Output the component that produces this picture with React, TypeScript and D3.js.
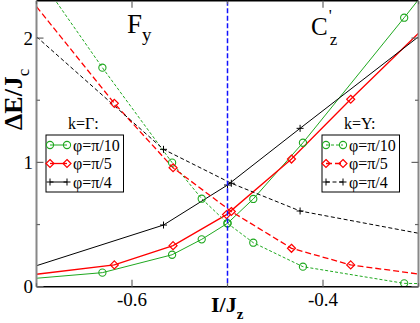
import React from "react";
import * as d3 from "d3";

// k=Gamma (solid) and k=Y (dashed) branches, [I/Jz, dE/Jc]
const gammaPi10 = [[-0.7, 0.068], [-0.631, 0.113], [-0.558, 0.257], [-0.527, 0.381], [-0.5, 0.51], [-0.473, 0.706], [-0.421, 1.158], [-0.315, 2.164], [-0.3, 2.31]];
const yPi10 = [[-0.7, 2.52], [-0.631, 1.762], [-0.558, 0.998], [-0.527, 0.708], [-0.5, 0.51], [-0.473, 0.354], [-0.421, 0.161], [-0.315, 0.027], [-0.3, 0.025]];
const gammaPi5 = [[-0.7, 0.1], [-0.6185, 0.175], [-0.557, 0.33], [-0.501, 0.58], [-0.433, 1.027], [-0.371, 1.508], [-0.3, 2.039]];
const yPi5 = [[-0.7, 2.253], [-0.6185, 1.475], [-0.557, 0.957], [-0.496, 0.605], [-0.433, 0.309], [-0.371, 0.175], [-0.3, 0.102]];
const gammaPi4 = [[-0.7, 0.169], [-0.567, 0.496], [-0.5, 0.818], [-0.424, 1.274], [-0.3, 2.011]];
const yPi4 = [[-0.7, 2.011], [-0.567, 1.105], [-0.496, 0.832], [-0.424, 0.609], [-0.3, 0.43]];

const phiLabels = ["\u03c6=\u03c0/10", "\u03c6=\u03c0/5", "\u03c6=\u03c0/4"];
const xTicks = [-0.6, -0.4];
const xMinor = [-0.7, -0.5, -0.3];
const yTicks = [0, 1, 2];
const yMinor = [0.5, 1.5];
const critical = -0.5;

const GREEN = "#1fa81f";
const RED = "#ff0000";
const BLACK = "#000000";

const W = 420;
const H = 323;
const L = 36.5, R = 418.5, T = 0.8, B = 286.7;

const x = d3.scaleLinear().domain([-0.7, -0.3]).range([L, R]);
const y = d3.scaleLinear().domain([0, 2.3]).range([B, T]);
const line = d3.line<number[]>().x((d) => x(d[0])).y((d) => y(d[1]));

const series = [
  { data: gammaPi10, color: GREEN, dash: null, mark: "circle", w: 1 },
  { data: gammaPi5, color: RED, dash: null, mark: "diamond", w: 1.3 },
  { data: gammaPi4, color: BLACK, dash: null, mark: "plus", w: 1 },
  { data: yPi10, color: GREEN, dash: "3,2", mark: "circle", w: 1 },
  { data: yPi5, color: RED, dash: "6,3", mark: "diamond", w: 1.3 },
  { data: yPi4, color: BLACK, dash: "4,2.5", mark: "plus", w: 1 },
];

function Marker({ kind, cx, cy, color }: { kind: string; cx: number; cy: number; color: string }) {
  if (kind === "circle") return <circle cx={cx} cy={cy} r={3.6} fill="none" stroke={color} strokeWidth={1.1} />;
  if (kind === "diamond")
    return (
      <path d={`M${cx},${cy - 4}L${cx + 4},${cy}L${cx},${cy + 4}L${cx - 4},${cy}Z`} fill="none" stroke={color} strokeWidth={1.2} />
    );
  return <path d={`M${cx - 3.5},${cy}H${cx + 3.5}M${cx},${cy - 3.5}V${cy + 3.5}`} stroke={color} strokeWidth={1} />;
}

function Legend({ x0, title, items }: { x0: number; title: string; items: typeof series }) {
  const rows = [145, 163.5, 182];
  return (
    <g>
      <text x={x0 + 22} y={129} fontSize={16} fontFamily="Liberation Serif">{title}</text>
      <rect x={x0} y={135} width={77.5} height={57} fill="white" stroke="black" strokeWidth={1} />
      {items.map((s, i) => (
        <g key={i}>
          <line x1={x0 + 4} x2={x0 + 21} y1={rows[i]} y2={rows[i]} stroke={s.color} strokeWidth={s.w} strokeDasharray={s.dash ?? undefined} />
          <Marker kind={s.mark} cx={x0 + 4} cy={rows[i]} color={s.color} />
          <Marker kind={s.mark} cx={x0 + 21} cy={rows[i]} color={s.color} />
          <text x={x0 + 27} y={rows[i] + 5.5} fontSize={16} fontFamily="Liberation Serif">{phiLabels[i]}</text>
        </g>
      ))}
    </g>
  );
}

export default function App() {
  return (
    <svg width={W} height={H} style={{ position: "absolute", left: 0, top: 0, background: "white" }} fontFamily="Liberation Serif">
      <defs>
        <clipPath id="plot">
          <rect x={L} y={T} width={R - L} height={B - T} />
        </clipPath>
      </defs>
      <g clipPath="url(#plot)">
        {series.map((s, i) => (
          <path key={i} d={line(s.data) ?? ""} fill="none" stroke={s.color} strokeWidth={s.w} strokeDasharray={s.dash ?? undefined} />
        ))}
        {series.map((s, i) =>
          s.data
            .filter((d) => d[0] > -0.7 && d[0] < -0.3)
            .map((d, j) => <Marker key={`${i}-${j}`} kind={s.mark} cx={x(d[0])} cy={y(d[1])} color={s.color} />)
        )}
      </g>
      <line x1={x(critical)} x2={x(critical)} y1={T} y2={B} stroke="#1010ff" strokeWidth={1.5} strokeDasharray="5,2.5" />

      {/* frame */}
      <line x1={L} x2={R} y1={T} y2={T} stroke="black" strokeWidth={1.6} />
      <line x1={L} x2={R} y1={B} y2={B} stroke="black" strokeWidth={1.6} />
      <line x1={L} x2={L} y1={T} y2={B} stroke="#888" strokeWidth={2} />
      <line x1={R} x2={R} y1={T} y2={B} stroke="#888" strokeWidth={2} />

      {yTicks.map((t) => (
        <g key={`y${t}`}>
          <line x1={L} x2={L + 7} y1={y(t)} y2={y(t)} stroke="#666" strokeWidth={1.2} />
          <line x1={R - 7} x2={R} y1={y(t)} y2={y(t)} stroke="#666" strokeWidth={1.2} />
          <text x={33} y={y(t) + 6.5} fontSize={19} textAnchor="end">{t}</text>
        </g>
      ))}
      {yMinor.map((t) => (
        <g key={`ym${t}`}>
          <line x1={L} x2={L + 3.5} y1={y(t)} y2={y(t)} stroke="#666" strokeWidth={1.2} />
          <line x1={R - 3.5} x2={R} y1={y(t)} y2={y(t)} stroke="#666" strokeWidth={1.2} />
        </g>
      ))}
      {xTicks.map((t) => (
        <g key={`x${t}`}>
          <line x1={x(t)} x2={x(t)} y1={B} y2={B - 7} stroke="#666" strokeWidth={1.2} />
          <line x1={x(t)} x2={x(t)} y1={T} y2={T + 7} stroke="#666" strokeWidth={1.2} />
          <text x={x(t)} y={306} fontSize={19} textAnchor="middle">{t.toFixed(1)}</text>
        </g>
      ))}
      {xMinor.map((t) => (
        <g key={`xm${t}`}>
          <line x1={x(t)} x2={x(t)} y1={B} y2={B - 3.5} stroke="#666" strokeWidth={1.2} />
          <line x1={x(t)} x2={x(t)} y1={T} y2={T + 3.5} stroke="#666" strokeWidth={1.2} />
        </g>
      ))}

      <text x={211} y={312} fontSize={22} fontWeight="bold">
        I/J<tspan fontSize={15} dy={7}>z</tspan>
      </text>
      <text transform="translate(22,130) rotate(-90)" fontSize={26} fontWeight="bold">
        ΔE/J<tspan fontSize={17} dy={7} fontWeight="normal">c</tspan>
      </text>

      <text x={127} y={33} fontSize={27}>
        F<tspan fontSize={19} dy={8}>y</tspan>
      </text>
      <text x={311} y={35} fontSize={25}>
        C<tspan fontSize={17} dy={-14} dx={1}>'</tspan>
        <tspan fontSize={17} dy={24} dx={-2}>z</tspan>
      </text>

      <Legend x0={46} title="k=Γ:" items={series.slice(0, 3)} />
      <Legend x0={322} title="k=Y:" items={series.slice(3, 6)} />
    </svg>
  );
}
